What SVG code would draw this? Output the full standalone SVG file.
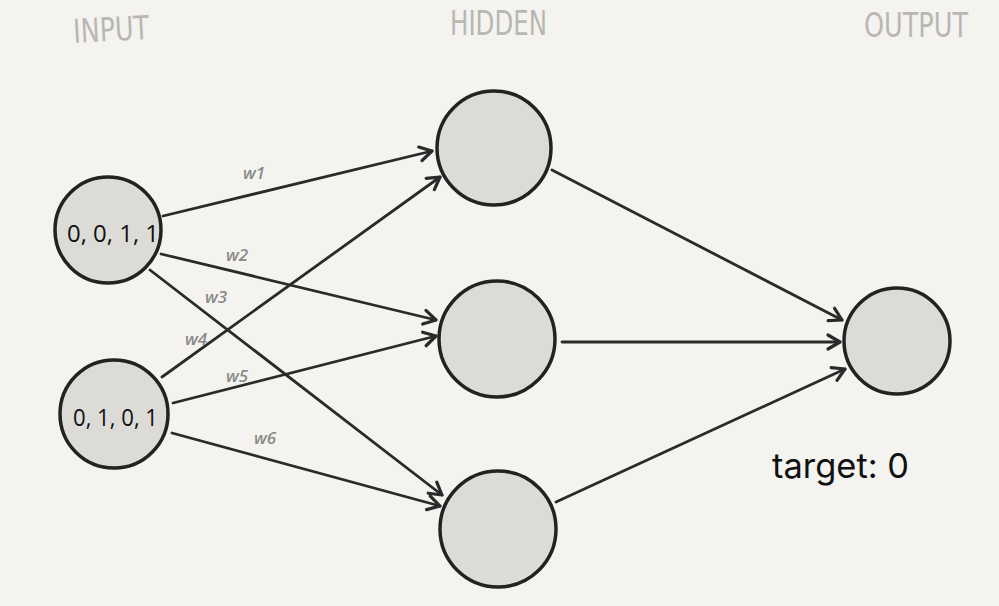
<svg xmlns="http://www.w3.org/2000/svg" width="999" height="606" viewBox="0 0 999 606">
<style>
.node{fill:#dcdbd8;stroke:#222;stroke-width:3.5}
.edge{fill:none;stroke:#2a2a2a;stroke-width:2.8;stroke-linecap:round}
.wl{font-family:"Open Sans","DejaVu Sans",sans-serif;font-style:italic;font-weight:600;font-size:17px;fill:#8a8a88}
.hd{font-family:"DejaVu Sans Condensed","DejaVu Sans",sans-serif;font-weight:200;font-size:33px;fill:#b8b7b2}
.nt{font-family:"Open Sans","DejaVu Sans",sans-serif;font-size:23px;fill:#111}
</style>
<defs>
<marker id="arr" viewBox="0 0 20 20" refX="16" refY="10" markerWidth="20" markerHeight="20" markerUnits="userSpaceOnUse" orient="auto">
<path d="M4,3 L16,10 L4,17" fill="none" stroke="#2a2a2a" stroke-width="3.2" stroke-linecap="round" stroke-linejoin="round"/>
</marker>
</defs>
<rect width="999" height="606" fill="#f4f3ef"/>
<g id="headers">
<text class="hd" x="73" y="41" textLength="76" lengthAdjust="spacingAndGlyphs" transform="rotate(-3 110 28)">INPUT</text>
<text class="hd" x="450" y="35" textLength="97" lengthAdjust="spacingAndGlyphs">HIDDEN</text>
<text class="hd" x="864" y="37" textLength="104" lengthAdjust="spacingAndGlyphs">OUTPUT</text>
</g>
<g id="connectors">
<path class="edge" marker-end="url(#arr)" d="M163,216 L432,151"/>
<path class="edge" marker-end="url(#arr)" d="M161,254 L436,320"/>
<path class="edge" marker-end="url(#arr)" d="M150,270 L442,495"/>
<path class="edge" marker-end="url(#arr)" d="M162,377 L440,177"/>
<path class="edge" marker-end="url(#arr)" d="M173,403 L436,336"/>
<path class="edge" marker-end="url(#arr)" d="M172,433 L440,506"/>
<path class="edge" marker-end="url(#arr)" d="M552,170 L842,320"/>
<path class="edge" marker-end="url(#arr)" d="M562,342 L840,342"/>
<path class="edge" marker-end="url(#arr)" d="M556,502 L845,369"/>
<text class="wl" x="243" y="179">w1</text>
<text class="wl" x="226" y="261">w2</text>
<text class="wl" x="205" y="303">w3</text>
<text class="wl" x="185" y="345">w4</text>
<text class="wl" x="226" y="382">w5</text>
<text class="wl" x="254" y="444">w6</text>
</g>
<g id="in1"><circle class="node" cx="108" cy="230" r="53"/><text class="nt" x="67" y="242" textLength="92" lengthAdjust="spacingAndGlyphs">0, 0, 1, 1</text></g>
<g id="in2"><circle class="node" cx="114" cy="414" r="54"/><text class="nt" x="73" y="426" textLength="85" lengthAdjust="spacingAndGlyphs">0, 1, 0, 1</text></g>
<g id="h1"><circle class="node" cx="494" cy="148" r="57"/></g>
<g id="h2"><circle class="node" cx="497" cy="339" r="58"/></g>
<g id="h3"><circle class="node" cx="498" cy="529" r="58"/></g>
<g id="out"><circle class="node" cx="897" cy="341" r="53"/></g>
<g id="target"><text x="772" y="478" font-family="Inter,'Open Sans',sans-serif" font-size="34" fill="#111" textLength="137" lengthAdjust="spacingAndGlyphs">target: 0</text></g>
</svg>
